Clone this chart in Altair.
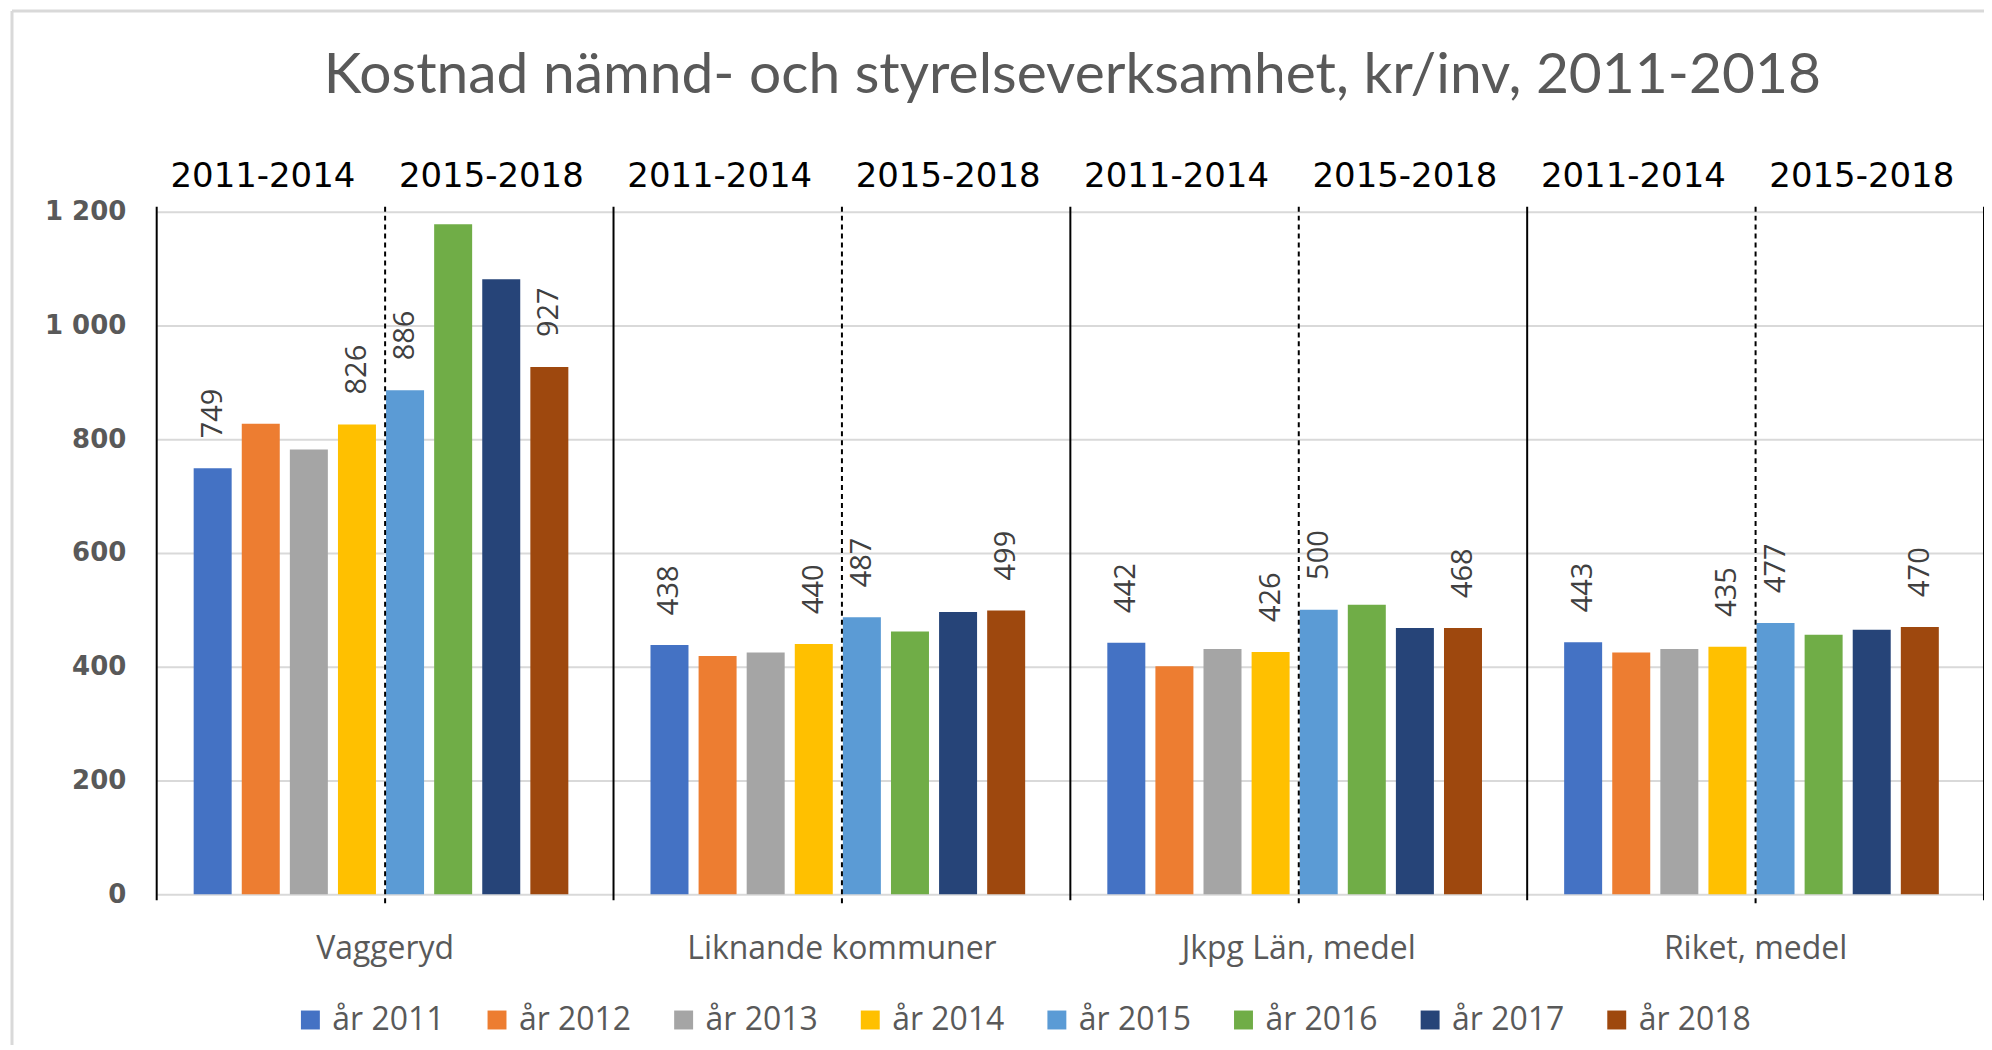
import altair as alt
import pandas as pd

# ---------------- data ----------------
groups = ["Vaggeryd", "Liknande kommuner", "Jkpg Län, medel", "Riket, medel"]
years = [2011, 2012, 2013, 2014, 2015, 2016, 2017, 2018]
vaggeryd = [749, 827, 782, 826, 886, 1178, 1081, 927]
liknande = [438, 419, 425, 440, 487, 462, 496, 499]
jkpg = [442, 401, 431, 426, 500, 509, 468, 468]
riket = [443, 425, 431, 435, 477, 456, 465, 470]
labelled_years = [2011, 2014, 2015, 2018]
period_labels = ["2011-2014", "2015-2018"]
colors = ["#4472C4", "#ED7D31", "#A5A5A5", "#FFC000",
          "#5B9BD5", "#70AD47", "#264478", "#9E480E"]
y_ticks = [0, 200, 400, 600, 800, 1000, 1200]
title_text = "Kostnad nämnd- och styrelseverksamhet, kr/inv, 2011-2018"

series_names = [f"år {y}" for y in years]
values_by_group = [vaggeryd, liknande, jkpg, riket]

rows = []
for g, vals in zip(groups, values_by_group):
    for y, s, v in zip(years, series_names, vals):
        rows.append({"group": g, "serie": s, "value": v,
                     "label": str(v) if y in labelled_years else None})
df = pd.DataFrame(rows)
df_groups = pd.DataFrame({"group": groups})
df_periods = pd.DataFrame([{"group": g, "period": p} for g in groups for p in period_labels])
df_title = pd.DataFrame({"t": [title_text]})
df_one = pd.DataFrame({"k": [0]})

# ---------------- layout ----------------
W, H = 1831, 684

x_scale = alt.Scale(domain=groups, paddingInner=0, paddingOuter=0)
x_axis = alt.Axis(title=None, labelAngle=0, domain=False, ticks=False, grid=False,
                  labelPadding=39, labelFont="Open Sans", labelFontSize=32,
                  labelColor="#595959", labelLimit=800)
y_scale = alt.Scale(domain=[0, 1200], nice=False)
y_axis = alt.Axis(title=None, values=y_ticks, grid=True, gridColor="#D9D9D9",
                  gridWidth=2, domain=False, ticks=False, labelPadding=31,
                  labelFont="DejaVu Sans", labelFontWeight="bold", labelFontSize=26,
                  labelColor="#595959",
                  labelExpr="replace(format(datum.value, ','), ',', ' ')")
off_scale = alt.Scale(domain=series_names, paddingInner=0.21, paddingOuter=0.854, align=0.45)


def xenc(bp=None):
    kw = dict(sort=groups, scale=x_scale, axis=x_axis)
    if bp is not None:
        kw["bandPosition"] = bp
    return alt.X("group:N", **kw)


bars = alt.Chart(df).mark_bar().encode(
    x=xenc(),
    xOffset=alt.XOffset("serie:N", sort=series_names, scale=off_scale),
    y=alt.Y("value:Q", scale=y_scale, axis=y_axis),
    color=alt.Color("serie:N", sort=series_names,
                    scale=alt.Scale(domain=series_names, range=colors),
                    legend=alt.Legend(title=None, orient="none", legendX=138, legendY=794,
                                      direction="horizontal", columns=8, columnPadding=36,
                                      symbolType="square", symbolSize=360,
                                      symbolStrokeWidth=0, labelFont="Open Sans",
                                      labelFontSize=32, labelColor="#595959",
                                      labelOffset=6, padding=0, labelLimit=300)),
)

value_labels = alt.Chart(df).transform_filter("datum.label != null").mark_text(
    angle=270, align="left", baseline="middle", dx=30,
    font="Open Sans", fontSize=29, color="#404040"
).encode(
    x=xenc(),
    xOffset=alt.XOffset("serie:N", sort=series_names, scale=off_scale),
    y=alt.Y("value:Q", scale=y_scale, axis=y_axis),
    text="label:N",
)

sep_solid = alt.Chart(df_groups).mark_rule(color="#000000", strokeWidth=2).encode(
    x=xenc(0), y=alt.value(-5), y2=alt.value(H + 6))
sep_end = alt.Chart(df_groups).transform_filter(
    alt.datum.group == groups[-1]).mark_rule(color="#000000", strokeWidth=2).encode(
    x=xenc(1), y=alt.value(-5), y2=alt.value(H + 6))
sep_dash = alt.Chart(df_groups).mark_rule(color="#000000", strokeWidth=2,
                                           strokeDash=[5, 4]).encode(
    x=xenc(0.5), y=alt.value(-5), y2=alt.value(H + 10))

head_style = dict(font="DejaVu Sans", fontSize=34, color="#000000",
                  align="center", baseline="alphabetic", dx=-8)
head1 = alt.Chart(df_periods).transform_filter(
    alt.datum.period == period_labels[0]).mark_text(**head_style).encode(
    x=xenc(0.25), y=alt.value(-25), text="period:N")
head2 = alt.Chart(df_periods).transform_filter(
    alt.datum.period == period_labels[1]).mark_text(**head_style).encode(
    x=xenc(0.75), y=alt.value(-25), text="period:N")

title = alt.Chart(df_title).mark_text(
    font="Lato", fontSize=57, color="#595959", align="center", baseline="alphabetic"
).encode(x=alt.value(W / 2 + 2), y=alt.value(-119), text="t:N")

frame_top = alt.Chart(df_one).mark_rule(color="#D9D9D9", strokeWidth=3).encode(
    x=alt.value(-145), x2=alt.value(W + 10), y=alt.value(-201))
frame_left = alt.Chart(df_one).mark_rule(color="#D9D9D9", strokeWidth=3).encode(
    x=alt.value(-145), y=alt.value(-201), y2=alt.value(H + 170))

chart = alt.layer(
    frame_top, frame_left, bars, sep_solid, sep_end, sep_dash,
    value_labels, head1, head2, title
).properties(
    width=W, height=H,
    autosize=alt.AutoSizeParams(type="none"),
    padding={"left": 149, "top": 203, "right": 0, "bottom": 150},
).configure_view(stroke=None)

chart.save("out.html", embed_options={"renderer": "svg", "actions": False})
